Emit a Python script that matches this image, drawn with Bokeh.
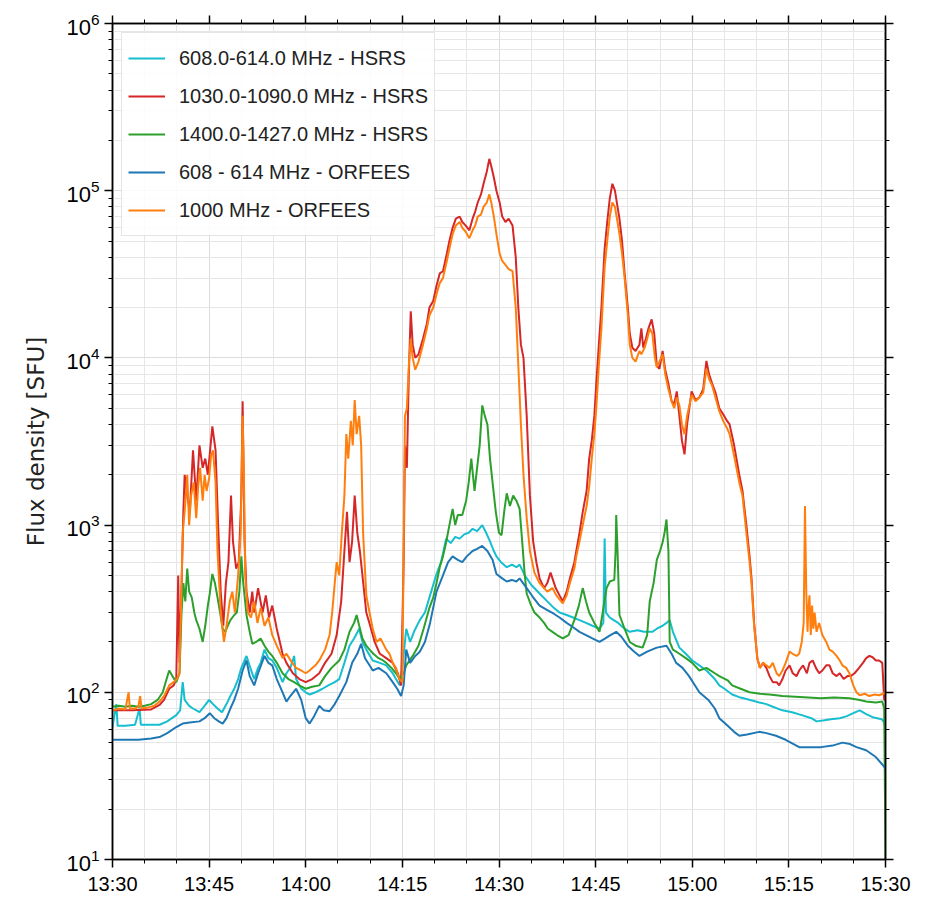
from bokeh.plotting import figure
from bokeh.models import (FixedTicker, LinearAxis, LogAxis, Legend, LegendItem, Range1d)
from bokeh.embed import file_html
from bokeh.resources import INLINE

# Time in minutes after 13:30 UT, flux density in SFU
TICK_MINUTES = [0, 15, 30, 45, 60, 75, 90, 105, 120]
TICK_LABELS = ["13:30", "13:45", "14:00", "14:15", "14:30", "14:45", "15:00", "15:15", "15:30"]
MINOR_MINUTES = list(range(0, 121, 5))

LABELS = ["608.0-614.0 MHz - HSRS", "1030.0-1090.0 MHz - HSRS", "1400.0-1427.0 MHz - HSRS",
          "608 - 614 MHz - ORFEES", "1000 MHz - ORFEES"]
COLORS = ["#17becf", "#d62728", "#2ca02c", "#1f77b4", "#ff7f0e"]

hsrs_608 = [(0, 62), (0.6, 85), (0.8, 63), (2, 63), (3.5, 64), (4.2, 80), (4.4, 64), (5.5, 64), (7.3, 64),
    (8.5, 67), (9.9, 73), (10.5, 78), (10.9, 115), (11.2, 90), (11.9, 83), (12.5, 80), (13.5, 76), (14.2, 82),
    (15.0, 90), (15.6, 85), (16.3, 80), (17.0, 76), (17.7, 85), (18.3, 95), (18.9, 105), (19.5, 120),
    (20.0, 140), (20.8, 165), (21.4, 140), (22.0, 120), (22.6, 140), (23.0, 150), (23.6, 180), (24.2, 160),
    (24.8, 155), (25.5, 140), (26.4, 115), (27.0, 130), (27.6, 140), (28.2, 165), (28.5, 120), (29.3, 105),
    (30.0, 100), (30.6, 97), (31.5, 100), (32.6, 105), (33.5, 110), (34.5, 115), (35.2, 120), (36.0, 150),
    (36.8, 190), (37.5, 210), (38.3, 240), (38.8, 200), (39.4, 180), (40.4, 155), (41.5, 150), (42.5, 145),
    (43.5, 130), (44.0, 120), (44.6, 110), (45.0, 140), (45.6, 240), (46.2, 200), (46.8, 230), (47.7, 270),
    (48.5, 300), (49.3, 380), (50.3, 510), (51.0, 600), (51.8, 830), (52.5, 780), (53.2, 850), (53.9, 830),
    (54.6, 880), (55.3, 900), (55.9, 950), (56.6, 920), (57.4, 1000), (58.0, 900), (58.6, 800), (59.2, 700),
    (59.6, 650), (60.3, 600), (61.2, 560), (62.0, 580), (62.7, 560), (63.2, 580), (64.0, 500), (65.0, 440),
    (66.3, 390), (67.5, 350), (68.5, 320), (69.4, 300), (70.5, 290), (71.5, 280), (72.5, 270), (73.5, 260),
    (74.5, 250), (75.6, 240), (76.2, 260), (76.4, 830), (76.6, 300), (77.2, 280), (77.8, 270), (78.5, 260),
    (79.5, 240), (80.3, 230), (81.5, 235), (82.5, 230), (83.8, 230), (84.5, 240), (85.4, 250), (86.0, 260),
    (86.5, 270), (87.0, 230), (88.0, 185), (89.0, 170), (90.0, 155), (91.1, 145), (92.2, 135), (93.5, 120),
    (94.2, 110), (95.0, 105), (96.2, 97), (97.5, 93), (99, 90), (100.4, 87), (101.5, 85), (102.5, 82),
    (104, 78), (105.5, 76), (107, 73), (108.5, 70), (109.3, 67), (110.5, 68), (111.5, 69), (112.9, 70),
    (114, 72), (115, 75), (116, 78), (117, 74), (118, 71), (119.4, 69), (119.8, 66), (120, 60)]

hsrs_1030 = [(0, 78), (3, 78), (6, 79), (7.3, 84), (8.0, 90), (8.8, 105), (9.5, 110), (9.9, 120), (10.2, 500),
    (10.4, 150), (10.7, 400), (11.0, 1200), (11.2, 2000), (11.6, 1500), (12.0, 1200), (12.5, 2800),
    (13.0, 1400), (13.5, 3000), (14.0, 2200), (14.4, 2500), (14.8, 2000), (15.5, 3900), (16.0, 2800),
    (16.4, 1000), (16.8, 400), (17.2, 250), (17.6, 450), (18.0, 600), (18.4, 1500), (18.7, 800), (19.2, 550),
    (19.6, 600), (20.0, 1500), (20.2, 5500), (20.5, 800), (20.8, 400), (21.3, 300), (21.7, 400), (22.0, 300),
    (22.6, 420), (23.3, 300), (23.8, 380), (24.3, 280), (24.8, 330), (25.5, 240), (26.4, 170), (27, 150),
    (28, 130), (29, 120), (30, 115), (31, 120), (32.1, 130), (33, 150), (34, 170), (34.8, 220), (35.5, 350),
    (36.0, 700), (36.4, 1200), (36.8, 600), (37.2, 800), (37.6, 1500), (38, 900), (38.4, 700), (38.8, 500),
    (39.4, 300), (40, 250), (40.7, 200), (41.5, 170), (42.5, 160), (43.5, 150), (44.3, 130), (44.8, 110),
    (45.2, 600), (45.4, 3000), (45.7, 2200), (46.0, 8000), (46.3, 19000), (46.6, 12000), (47.0, 10000),
    (47.5, 10500), (48.2, 13000), (48.8, 16000), (49.2, 20000), (49.8, 22000), (50.3, 27000), (50.8, 32000),
    (51.3, 33000), (51.9, 42000), (52.3, 50000), (52.8, 60000), (53.3, 68000), (53.9, 70000), (54.3, 65000),
    (54.8, 62000), (55.4, 58000), (55.9, 68000), (56.3, 75000), (56.7, 85000), (57.2, 95000), (57.6, 110000),
    (58.1, 130000), (58.5, 155000), (58.8, 140000), (59.2, 120000), (59.6, 100000), (60.1, 85000),
    (60.5, 70000), (61.0, 65000), (61.5, 68000), (62.1, 62000), (62.6, 40000), (63.0, 20000), (63.4, 12000),
    (63.8, 10000), (64.3, 4500), (64.8, 1500), (65.3, 800), (65.8, 600), (66.3, 480), (67.0, 420),
    (67.5, 450), (68.0, 520), (68.3, 480), (68.8, 420), (69.4, 380), (69.9, 350), (70.5, 400), (71.0, 480),
    (71.7, 600), (72.0, 700), (72.5, 900), (73.0, 1200), (73.6, 1600), (74.0, 2500), (74.4, 3200),
    (74.8, 4500), (75.1, 7000), (75.5, 12000), (75.9, 20000), (76.4, 45000), (76.8, 65000), (77.2, 90000),
    (77.6, 110000), (78.0, 100000), (78.4, 80000), (78.7, 68000), (79.1, 50000), (79.5, 32000),
    (80.0, 20000), (80.3, 14000), (80.7, 11500), (81.2, 11000), (81.8, 12000), (82.1, 15000), (82.4, 11500),
    (82.8, 13000), (83.2, 15000), (83.7, 17000), (84.1, 14000), (84.5, 9000), (84.9, 8600), (85.4, 11000),
    (85.8, 8500), (86.3, 7000), (86.8, 5500), (87.2, 5300), (87.6, 6300), (88.0, 4500), (88.4, 3200),
    (88.8, 2650), (89.2, 4000), (89.9, 6300), (90.5, 5600), (91.1, 5800), (91.7, 6500), (92.2, 9600),
    (92.6, 8000), (93.1, 7000), (93.6, 6200), (94.2, 5000), (94.8, 4600), (95.4, 4200), (95.8, 4000),
    (96.5, 3000), (97.3, 2000), (97.8, 1600), (98.4, 1000), (98.9, 650), (99.2, 480), (99.6, 260),
    (100.1, 160), (100.5, 140), (101.0, 150), (101.5, 140), (102.0, 125), (102.5, 115), (103.1, 115),
    (103.5, 110), (104.0, 120), (104.5, 135), (105.1, 145), (105.6, 130), (106.2, 125), (106.6, 135),
    (107.2, 145), (107.8, 130), (108.2, 150), (108.7, 155), (109.2, 140), (109.7, 130), (110.2, 135),
    (110.8, 145), (111.3, 145), (111.8, 130), (112.4, 125), (112.9, 130), (113.5, 120), (114.1, 125),
    (114.6, 125), (115.2, 130), (115.9, 140), (116.5, 150), (117.0, 160), (117.5, 165), (118.0, 162),
    (118.5, 155), (119.0, 155), (119.5, 150), (119.8, 90), (120, 90)]

hsrs_1400 = [(0, 82), (1, 83), (2, 82), (3, 83), (4, 82), (5, 83), (6, 85), (7, 90), (7.8, 100), (8.4, 120),
    (8.8, 135), (9.3, 125), (9.9, 115), (10.4, 130), (10.7, 290), (11.0, 450), (11.3, 350), (11.6, 550),
    (11.9, 400), (12.3, 370), (12.7, 300), (13.0, 270), (13.5, 240), (14.0, 200), (14.4, 250), (14.8, 330),
    (15.1, 390), (15.5, 510), (15.9, 450), (16.3, 370), (16.7, 300), (17.1, 240), (17.5, 230), (17.9, 250),
    (18.3, 270), (18.9, 290), (19.3, 300), (19.7, 400), (20.0, 650), (20.3, 450), (20.8, 290), (21.3, 230),
    (21.7, 195), (22.3, 200), (23.0, 210), (23.6, 190), (24.2, 175), (24.8, 165), (25.5, 150), (26.4, 130),
    (27.3, 120), (28.2, 115), (29.0, 110), (30.0, 105), (31.0, 108), (32.1, 110), (33.0, 125), (34.0, 140),
    (35.2, 155), (36.0, 180), (36.8, 230), (37.5, 260), (37.9, 290), (38.3, 250), (38.8, 210), (39.4, 190),
    (39.9, 180), (40.5, 170), (41.3, 160), (42.0, 155), (42.5, 150), (43.3, 140), (44.0, 130), (44.6, 120),
    (45.2, 130), (45.6, 145), (46.6, 165), (47.5, 190), (48.3, 240), (49.2, 320), (49.8, 370), (50.3, 450),
    (50.8, 560), (51.3, 650), (51.8, 790), (52.3, 1000), (52.8, 1250), (53.2, 1000), (53.6, 1150),
    (54.3, 1150), (54.9, 1400), (55.3, 1800), (55.7, 2500), (56.2, 1600), (56.6, 2200), (57.0, 3000),
    (57.4, 5200), (57.8, 4500), (58.2, 4000), (58.6, 2500), (59.0, 1800), (59.5, 1200), (60.0, 900),
    (60.4, 870), (60.8, 1200), (61.2, 1550), (61.7, 1300), (62.2, 1500), (62.7, 1400), (63.2, 1250),
    (63.6, 800), (64.0, 500), (64.3, 390), (65.0, 330), (65.5, 300), (66.3, 280), (67.0, 260), (67.6, 240),
    (68.3, 230), (69.0, 220), (69.9, 210), (70.8, 220), (71.7, 270), (72.4, 330), (73.0, 420), (73.5, 350),
    (74.0, 300), (74.8, 260), (75.6, 230), (76.1, 300), (76.7, 420), (77.2, 460), (77.9, 470), (78.1, 700),
    (78.2, 1150), (78.4, 700), (78.7, 290), (79.5, 240), (80.3, 200), (81.2, 190), (82.3, 185), (83.0, 220),
    (83.4, 350), (84.0, 450), (84.5, 620), (85.0, 700), (85.4, 790), (85.7, 900), (86.0, 1080), (86.3, 700),
    (86.5, 200), (87.0, 180), (88.0, 170), (89.0, 160), (90.0, 150), (91.1, 135), (92.2, 140), (93.5, 130),
    (94.2, 125), (95.5, 118), (96.2, 110), (97.5, 105), (98.9, 100), (100.5, 98), (102, 97), (104, 95),
    (106, 94), (108, 93), (110, 92), (112, 93), (114.4, 92), (116, 90), (117, 88), (118.5, 87), (119.5, 88),
    (119.8, 80), (120, 10)]

orfees_608 = [(0, 52), (2, 52), (4, 52), (6, 53), (7.3, 54), (8.5, 57), (9.9, 62), (10.9, 65), (12, 66),
    (13.5, 67), (14.3, 70), (15.1, 75), (15.8, 70), (16.5, 67), (17.1, 65), (17.7, 70), (18.3, 80), (18.9, 90),
    (19.5, 105), (20.2, 135), (20.8, 155), (21.3, 125), (22.0, 110), (22.6, 130), (23.6, 165), (24.2, 150),
    (24.8, 145), (25.5, 120), (26.4, 100), (27.0, 88), (27.6, 95), (28.5, 105), (29.3, 90), (30.0, 70),
    (30.6, 65), (31.3, 72), (32.1, 83), (32.8, 78), (33.7, 77), (34.5, 85), (35.2, 95), (36.3, 115),
    (37.2, 150), (38.0, 170), (38.6, 195), (39.2, 160), (39.9, 145), (40.4, 135), (41.3, 140), (42.5, 130),
    (43.5, 115), (44.2, 105), (44.8, 95), (45.2, 110), (45.6, 180), (46.2, 150), (47.0, 165), (47.7, 175),
    (48.5, 200), (49.3, 260), (50.3, 400), (51.3, 500), (52.1, 600), (52.8, 650), (53.6, 620), (54.3, 600),
    (55.0, 650), (55.9, 700), (56.6, 720), (57.4, 750), (58.2, 700), (59.0, 620), (59.6, 510), (60.5, 480),
    (61.2, 460), (62.0, 470), (62.7, 460), (63.2, 480), (64.3, 420), (65.3, 370), (66.3, 330), (67.5, 310),
    (68.5, 295), (69.4, 280), (70.5, 260), (71.5, 245), (72.5, 230), (73.5, 220), (74.5, 210), (75.6, 200),
    (76.5, 210), (77.3, 220), (78.2, 230), (79.0, 215), (80.0, 190), (81.0, 175), (81.8, 165), (83.0, 175),
    (84.5, 185), (86.0, 190), (86.8, 170), (87.5, 150), (88.5, 140), (89.5, 125), (91.1, 100), (92.5, 90),
    (93.5, 80), (94.2, 70), (95.5, 63), (96.5, 58), (97.3, 55), (98.5, 56), (100.4, 58), (101.5, 57),
    (103, 55), (104.5, 52), (106.6, 47), (108.5, 47), (110, 47), (111.8, 48), (113.3, 50), (114.5, 49),
    (115.5, 47), (117, 45), (118.5, 41), (119.5, 37), (120, 35)]

orfees_1000 = [(0, 78), (1, 80), (2, 79), (2.5, 100), (2.7, 80), (3.5, 80), (4, 82), (4.3, 95), (4.5, 80),
    (5.5, 81), (6.5, 83), (7.3, 88), (8, 95), (8.8, 110), (9.5, 115), (10, 120), (10.4, 130), (10.7, 400),
    (10.9, 900), (11.2, 1200), (11.6, 2000), (11.9, 1000), (12.2, 1500), (12.6, 1800), (13.0, 1100),
    (13.3, 1700), (13.6, 2200), (14.0, 1400), (14.3, 2000), (14.6, 1600), (15.0, 1900), (15.3, 2600),
    (15.6, 2800), (16.0, 1800), (16.3, 700), (16.8, 300), (17.3, 200), (17.7, 250), (18.2, 350), (18.6, 400),
    (19.0, 300), (19.5, 500), (19.9, 900), (20.2, 4500), (20.4, 2000), (20.6, 500), (21.0, 300), (21.5, 280),
    (22.0, 350), (22.5, 260), (23.0, 320), (23.6, 250), (24.2, 280), (24.8, 220), (25.5, 190), (26.4, 160),
    (27.0, 170), (27.9, 150), (28.5, 140), (29.3, 135), (30.0, 130), (30.6, 135), (31.5, 145), (32.1, 155),
    (33.0, 180), (33.7, 220), (34.1, 300), (34.5, 450), (34.8, 600), (35.2, 500), (35.6, 900), (36.0, 1500),
    (36.3, 3500), (36.6, 2500), (37.0, 4200), (37.3, 3000), (37.6, 5600), (37.9, 3500), (38.3, 4500),
    (38.6, 3000), (38.9, 900), (39.4, 380), (39.9, 300), (40.4, 240), (41.0, 200), (41.6, 210), (42.5, 180),
    (43.0, 170), (43.5, 150), (44.0, 140), (44.5, 120), (45.0, 115), (45.2, 800), (45.4, 4500), (45.7, 5000),
    (46.0, 9000), (46.3, 13000), (46.6, 10000), (47.0, 8500), (47.5, 9500), (48.2, 12000), (48.8, 15000),
    (49.2, 18000), (49.8, 20000), (50.3, 24000), (50.8, 28000), (51.3, 30000), (51.9, 38000), (52.3, 45000),
    (52.8, 55000), (53.3, 62000), (53.9, 65000), (54.3, 60000), (54.8, 57000), (55.4, 52000), (55.9, 58000),
    (56.3, 62000), (56.7, 70000), (57.2, 72000), (57.6, 80000), (58.1, 85000), (58.5, 95000), (58.8, 85000),
    (59.2, 70000), (59.6, 55000), (60.1, 42000), (60.5, 38000), (61.0, 36000), (61.5, 34000), (62.1, 33000),
    (62.6, 20000), (63.0, 9000), (63.4, 4000), (63.8, 2000), (64.3, 1100), (64.8, 700), (65.5, 520),
    (66.3, 450), (67.0, 420), (67.5, 400), (68.3, 420), (68.9, 380), (69.4, 360), (69.9, 340), (70.5, 380),
    (71.0, 450), (71.7, 550), (72.0, 650), (72.5, 800), (73.0, 1000), (73.6, 1300), (74.0, 1700),
    (74.4, 2500), (74.8, 3500), (75.1, 5000), (75.5, 9000), (75.9, 15000), (76.4, 35000), (76.8, 50000),
    (77.2, 70000), (77.6, 85000), (78.0, 80000), (78.4, 65000), (78.7, 55000), (79.1, 42000), (79.5, 30000),
    (80.0, 18000), (80.3, 12000), (80.7, 10000), (81.2, 9500), (81.8, 11000), (82.1, 10500), (82.6, 11500),
    (83.0, 13000), (83.4, 15000), (83.8, 14000), (84.2, 10000), (84.5, 8800), (84.9, 9500), (85.4, 10500),
    (85.8, 8000), (86.3, 6500), (86.8, 5500), (87.2, 5000), (87.6, 5800), (88.0, 5200), (88.4, 4000),
    (88.8, 3500), (89.2, 4500), (89.9, 6000), (90.5, 5500), (91.1, 5800), (91.7, 6200), (92.2, 8600),
    (92.6, 7500), (93.1, 6800), (93.6, 5800), (94.2, 4800), (94.8, 4200), (95.4, 3800), (95.8, 3500),
    (96.5, 2600), (97.3, 1800), (97.8, 1500), (98.4, 900), (98.9, 600), (99.2, 450), (99.6, 250),
    (100.1, 160), (100.5, 140), (101.0, 150), (101.5, 145), (102.0, 140), (102.5, 150), (103.1, 130),
    (103.5, 125), (104.0, 135), (104.5, 150), (105.1, 175), (105.6, 170), (106.2, 165), (106.6, 170),
    (107.0, 200), (107.3, 260), (107.5, 1300), (107.7, 400), (107.9, 230), (108.0, 300), (108.2, 380),
    (108.4, 220), (108.6, 330), (108.8, 240), (109.0, 300), (109.3, 230), (109.7, 260), (110.2, 220),
    (110.8, 200), (111.3, 180), (111.8, 175), (112.4, 165), (112.9, 155), (113.3, 145), (113.9, 140),
    (114.4, 130), (115.0, 110), (115.5, 100), (116.0, 96), (116.8, 98), (117.5, 95), (118.3, 97),
    (119.0, 96), (119.6, 98), (120, 100)]

SERIES = [hsrs_608, hsrs_1030, hsrs_1400, orfees_608, orfees_1000]

p = figure(frame_width=773, frame_height=836, y_axis_type="log",
           x_range=Range1d(0, 120), y_range=Range1d(10, 1e6),
           output_backend="svg", toolbar_location=None,
           min_border_left=112, min_border_right=30, min_border_top=23, min_border_bottom=40)
p.background_fill_color = "white"
p.outline_line_color = "black"
p.outline_line_width = 1.5

items = []
for data, label, color in zip(SERIES, LABELS, COLORS):
    xs = [d[0] for d in data]
    ys = [d[1] for d in data]
    r = p.line(xs, ys, line_color=color, line_width=2)
    items.append(LegendItem(label=label, renderers=[r]))

xticker = FixedTicker(ticks=TICK_MINUTES, minor_ticks=MINOR_MINUTES)
p.xaxis.ticker = xticker
p.xaxis.major_label_overrides = {m: l for m, l in zip(TICK_MINUTES, TICK_LABELS)}

FONT = "Liberation Sans"
for ax in [p.xaxis[0], p.yaxis[0]]:
    ax.major_label_text_font = FONT
    ax.major_label_text_font_size = "20px"
    ax.major_label_text_color = "black"
    ax.axis_line_width = 1.5
    ax.major_tick_in = 0
    ax.major_tick_out = 8
    ax.minor_tick_in = 0
    ax.minor_tick_out = 4
    ax.major_tick_line_width = 1.5
p.yaxis.major_label_text_font_size = "22px"

p.yaxis.axis_label = "Flux density [SFU]"
p.yaxis.axis_label_text_font = "DejaVu Sans"
p.yaxis.axis_label_text_font_size = "23px"
p.yaxis.axis_label_text_font_style = "normal"
p.yaxis.axis_label_text_color = "#222222"
p.yaxis.axis_label_standoff = 14

top = LinearAxis(ticker=xticker, major_label_text_font_size="1px", major_label_text_alpha=0,
                 major_label_standoff=0,
                 axis_line_width=1.5, major_tick_in=0, major_tick_out=8, minor_tick_in=0, minor_tick_out=4,
                 major_tick_line_width=1.5)
p.add_layout(top, "above")
right = LogAxis(major_label_text_font_size="1px", major_label_text_alpha=0, major_label_standoff=0,
                axis_line_width=1.5, major_tick_in=0, major_tick_out=8, minor_tick_in=0, minor_tick_out=4,
                major_tick_line_width=1.5)
p.add_layout(right, "right")

p.xgrid.grid_line_color = "#dcdcdc"
p.xgrid.minor_grid_line_color = "#e6e6e6"
p.ygrid.grid_line_color = "#dcdcdc"
p.ygrid.minor_grid_line_color = "#e6e6e6"

legend = Legend(items=items, location="top_left")
legend.margin = 9
legend.padding = 6
legend.spacing = 0
legend.label_height = 38
legend.glyph_height = 38
legend.glyph_width = 37
legend.label_standoff = 14
legend.label_text_font = FONT
legend.label_text_font_size = "20px"
legend.label_text_color = "#222222"
legend.border_line_color = "#cccccc"
legend.background_fill_alpha = 0.85
p.add_layout(legend)

open("out.html", "w").write(file_html(p, INLINE))
